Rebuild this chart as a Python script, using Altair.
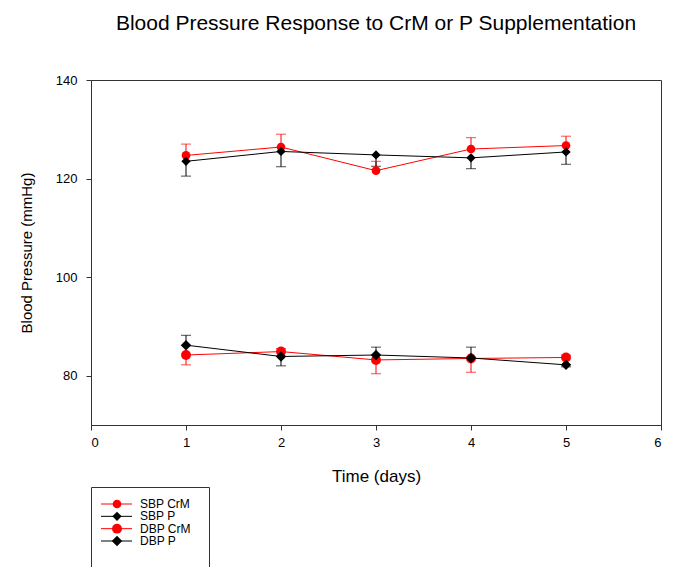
import altair as alt
import pandas as pd

# ---- data ----
days = [1, 2, 3, 4, 5]
series_names = ["SBP CrM", "SBP P", "DBP CrM", "DBP P"]

sbp_crm = [124.7, 126.4, 121.6, 126.0, 126.7]
sbp_crm_err = [2.3, 2.6, 1.9, 2.3, 1.9]          # + = bar drawn upward, - = downward
sbp_p = [123.5, 125.5, 124.8, 124.2, 125.4]
sbp_p_err = [-3.0, -3.1, -2.3, -2.2, -2.5]
dbp_crm = [84.2, 84.9, 83.2, 83.5, 83.7]
dbp_crm_err = [-2.0, 0.6, -2.8, -2.8, 0.5]
dbp_p = [86.2, 83.9, 84.2, 83.6, 82.2]
dbp_p_err = [2.0, -1.9, 1.6, 2.2, -0.4]

series_colors = ["#ff0000", "#000000", "#ff0000", "#000000"]
series_shapes = ["circle", "diamond", "circle", "diamond"]
series_sizes = [75, 110, 75, 110]

y_ticks = [80, 100, 120, 140]
x_ticks = [0, 1, 2, 3, 4, 5, 6]

FONT = "Liberation Sans"

rows = []
for name, vals, errs in [
    ("SBP CrM", sbp_crm, sbp_crm_err),
    ("SBP P", sbp_p, sbp_p_err),
    ("DBP CrM", dbp_crm, dbp_crm_err),
    ("DBP P", dbp_p, dbp_p_err),
]:
    for d, v, e in zip(days, vals, errs):
        rows.append({"series": name, "day": d, "bp": v, "end": v + e})
df = pd.DataFrame(rows)

color = alt.Color("series:N", scale=alt.Scale(domain=series_names, range=series_colors), legend=None)
xenc = alt.X("day:Q", scale=alt.Scale(domain=[0, 6], nice=False),
             axis=alt.Axis(values=x_ticks, title="Time (days)", format="d"))
yenc = alt.Y("bp:Q", scale=alt.Scale(domain=[70, 140], nice=False, zero=False),
             axis=alt.Axis(values=y_ticks, title="Blood Pressure (mmHg)"))

base = alt.Chart(df)

lines = base.mark_line(strokeWidth=1).encode(x=xenc, y=yenc, color=color, detail="series:N")
err_rules = base.mark_rule(strokeWidth=1).encode(x="day:Q", y="bp:Q", y2="end:Q", color=color)
caps = base.mark_tick(orient="horizontal", size=10, thickness=1).encode(
    x="day:Q", y="end:Q", color=color)
points = base.mark_point(filled=True, opacity=1).encode(
    x="day:Q", y="bp:Q", color=color,
    shape=alt.Shape("series:N", scale=alt.Scale(domain=series_names, range=series_shapes), legend=None),
    size=alt.Size("series:N", scale=alt.Scale(domain=series_names, range=series_sizes), legend=None),
)

main = alt.layer(lines, err_rules, caps, points).properties(
    width=570, height=345,
    title=alt.TitleParams(
        "Blood Pressure Response to CrM or P Supplementation",
        fontSize=21, font=FONT, fontWeight="normal", color="#000", offset=40, anchor="middle",
    ),
)

# ---- legend panel ----
leg_df = pd.DataFrame({"series": series_names})
leg_y = alt.Y("series:N", sort=series_names, axis=None,
              scale=alt.Scale(type="point", range=[17, 54], padding=0))
leg_color = alt.Color("series:N", scale=alt.Scale(domain=series_names, range=series_colors), legend=None)
leg_base = alt.Chart(leg_df)
leg_lines = leg_base.mark_rule(strokeWidth=1).encode(
    x=alt.value(10), x2=alt.value(41), y=leg_y, color=leg_color)
leg_pts = leg_base.mark_point(filled=True, opacity=1).encode(
    x=alt.value(26), y=leg_y, color=leg_color,
    shape=alt.Shape("series:N", scale=alt.Scale(domain=series_names, range=series_shapes), legend=None),
    size=alt.Size("series:N", scale=alt.Scale(domain=series_names, range=[60, 80, 60, 80]), legend=None),
)
leg_text = leg_base.mark_text(align="left", baseline="middle", fontSize=12, font=FONT, color="#000").encode(
    x=alt.value(49), y=leg_y, text="series:N")
legend = alt.layer(leg_lines, leg_pts, leg_text).properties(width=118, height=90)

chart = alt.vconcat(main, legend, spacing=1).properties(
    padding={"left": 10, "top": 4, "right": 5, "bottom": 5},
    background="white",
).configure_view(
    stroke="#333", strokeWidth=1
).configure_axis(
    grid=False, domainColor="#333", tickColor="#333", tickSize=5,
    labelFont=FONT, labelFontSize=13, labelColor="#000",
    titleFont=FONT, titleColor="#000", titleFontWeight="normal",
).configure_axisY(
    labelPadding=9, titleFontSize=15, titlePadding=21,
).configure_axisX(
    labelPadding=6, titleFontSize=17, titlePadding=19,
)

chart.save("out.html", embed_options={"renderer": "svg", "actions": False})
